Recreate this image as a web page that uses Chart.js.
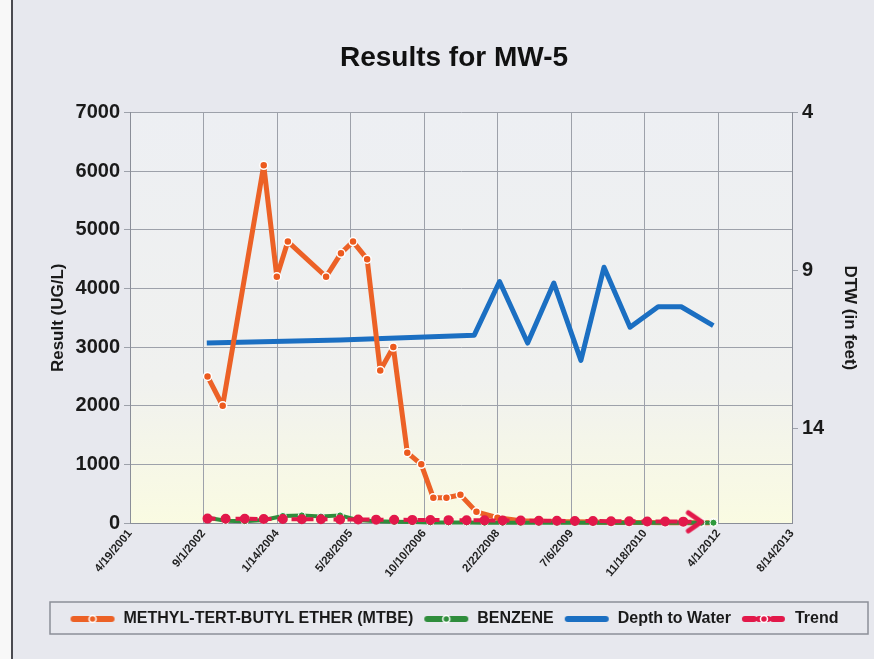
<!DOCTYPE html>
<html lang="en">
<head>
  <meta charset="UTF-8" />
  <title>Results for MW-5</title>
  <script src="https://cdn.jsdelivr.net/npm/chart.js@4.4.0/dist/chart.umd.min.js"></script>
  <style>
    html, body { margin: 0; padding: 0; background: #ffffff; }
    .chart-box { position: relative; width: 874px; height: 659px; }
  </style>
</head>
<body>
  <div class="chart-box"><canvas id="mwChart"></canvas></div>

  <script>
    // x axis tick labels (every 500 days)
    const xTickLabels = ['4/19/2001', '9/1/2002', '1/14/2004', '5/28/2005', '10/10/2006',
      '2/22/2008', '7/6/2009', '11/18/2010', '4/1/2012', '8/14/2013'];
    const resultTicks = [0, 1000, 2000, 3000, 4000, 5000, 6000, 7000];
    const dtwTicks = [4, 9, 14];

    // MTBE (ug/L)
    const mtbeDates = ['9/28/2002', '1/9/2003', '10/15/2003', '1/12/2004', '3/27/2004', '12/12/2004',
      '3/23/2005', '6/13/2005', '9/17/2005', '12/15/2005', '3/14/2006', '6/17/2006', '9/20/2006',
      '12/11/2006', '3/10/2007', '6/13/2007', '9/30/2007', '2/20/2008', '7/27/2008', '11/27/2008',
      '3/30/2009', '7/30/2009', '11/30/2009', '4/2/2010', '8/3/2010', '12/4/2010', '4/5/2011',
      '8/6/2011', '12/7/2011', '2/27/2012'];
    const mtbeValues = [2500, 2000, 6100, 4200, 4800, 4200, 4600, 4800, 4500, 2600, 3000, 1200, 1000,
      430, 430, 480, 190, 90, 40, 30, 20, 20, 15, 10, 10, 10, 5, 5, 5, 5];

    // Benzene (ug/L)
    const benzeneDates = ['9/28/2002', '1/29/2003', '6/8/2003', '10/15/2003', '2/22/2004', '6/30/2004',
      '11/7/2004', '3/17/2005', '7/18/2005', '11/17/2005', '3/20/2006', '7/21/2006', '11/21/2006',
      '3/24/2007', '7/25/2007', '11/24/2007', '3/26/2008', '7/27/2008', '11/27/2008', '3/30/2009',
      '7/30/2009', '11/30/2009', '4/2/2010', '8/3/2010', '12/4/2010', '4/5/2011', '8/6/2011',
      '12/7/2011', '2/27/2012'];
    const benzeneValues = [90, 40, 30, 50, 120, 130, 110, 130, 50, 30, 20, 15, 10, 10, 10, 5, 5, 5, 5,
      5, 5, 5, 5, 5, 5, 5, 5, 5, 5];

    // Trend
    const trendDates = ['9/28/2002', '1/29/2003', '6/8/2003', '10/15/2003', '2/22/2004', '6/30/2004',
      '11/7/2004', '3/17/2005', '7/18/2005', '11/17/2005', '3/20/2006', '7/21/2006', '11/21/2006',
      '3/24/2007', '7/25/2007', '11/24/2007', '3/26/2008', '7/27/2008', '11/27/2008', '3/30/2009',
      '7/30/2009', '11/30/2009', '4/2/2010', '8/3/2010', '12/4/2010', '4/5/2011', '8/6/2011',
      '12/7/2011'];
    const trendValues = [75, 73, 71, 69, 67, 65, 63, 61, 59, 57, 55, 53, 51, 49, 47, 45, 43, 41, 39,
      37, 35, 33, 31, 29, 27, 25, 23, 21];

    // Depth to water (feet)
    const dtwDates = ['9/23/2002', '3/17/2005', '9/15/2007', '3/5/2008', '9/12/2008', '3/9/2009',
      '9/9/2009', '2/13/2010', '8/9/2010', '2/16/2011', '7/23/2011', '2/26/2012'];
    const dtwValues = [11.3, 11.2, 11.05, 9.35, 11.3, 9.4, 11.85, 8.9, 10.8, 10.15, 10.15, 10.75];

    function toUTC(s) {
      const [m, d, y] = s.split('/').map(Number);
      return Date.UTC(y, m - 1, d);
    }
    const base = toUTC(xTickLabels[0]);
    function dayOf(s) {
      return Math.round((toUTC(s) - base) / 86400000);
    }
    function points(dates, values) {
      return dates.map((s, i) => ({ x: dayOf(s), y: values[i] }));
    }

    function legendIcon(color, dot, dash) {
      const c = document.createElement('canvas');
      c.width = 46; c.height = 14;
      const g = c.getContext('2d');
      g.strokeStyle = color; g.lineWidth = 6; g.lineCap = 'round';
      if (dash) g.setLineDash(dash);
      g.beginPath(); g.moveTo(4, 7); g.lineTo(42, 7); g.stroke();
      if (dot) {
        g.setLineDash([]);
        g.fillStyle = color; g.strokeStyle = '#ffffff'; g.lineWidth = 1.5;
        g.beginPath(); g.arc(23, 7, 3.5, 0, Math.PI * 2); g.fill(); g.stroke();
      }
      return c;
    }

    function arrowHead(color) {
      const c = document.createElement('canvas');
      c.width = 44; c.height = 26;
      const g = c.getContext('2d');
      g.strokeStyle = color; g.lineWidth = 5; g.lineCap = 'round'; g.lineJoin = 'round';
      g.beginPath(); g.moveTo(9, 4); g.lineTo(22, 13); g.lineTo(9, 22); g.stroke();
      return c;
    }

    const icons = [
      legendIcon('#ec6126', true),
      legendIcon('#2f8d3c', true),
      legendIcon('#1b6fc2', false),
      legendIcon('#e2184a', true, [9, 5])
    ];
    const arrow = arrowHead('#e2184a');

    // page + plot background, legend frame
    const backdrop = {
      id: 'backdrop',
      beforeDraw(chart) {
        const { ctx, chartArea: a, width, height } = chart;
        ctx.save();
        ctx.fillStyle = '#e7e8ee';
        ctx.fillRect(0, 0, width, height);
        ctx.fillStyle = '#f8f8f8';
        ctx.fillRect(0, 0, 12, height);
        const grad = ctx.createLinearGradient(0, a.top, 0, a.bottom);
        grad.addColorStop(0, '#edeff3');
        grad.addColorStop(0.65, '#f0f1ef');
        grad.addColorStop(1, '#fafbe2');
        ctx.fillStyle = grad;
        ctx.fillRect(a.left, a.top, a.right - a.left, a.bottom - a.top);
        ctx.strokeStyle = '#4a4a50'; ctx.lineWidth = 2;
        ctx.beginPath(); ctx.moveTo(12, 0); ctx.lineTo(12, height); ctx.stroke();
        ctx.restore();
      },
      afterDraw(chart) {
        const lg = chart.legend;
        const ctx = chart.ctx;
        ctx.save();
        ctx.strokeStyle = '#8c8f98'; ctx.lineWidth = 1.5;
        ctx.strokeRect(50, lg.top + 1, 818, lg.height - 4);
        ctx.restore();
      }
    };

    Chart.defaults.font.family = '"Liberation Sans", Arial, sans-serif';
    Chart.defaults.font.weight = 'bold';
    Chart.defaults.color = '#1a1a1a';

    const ctx = document.getElementById('mwChart').getContext('2d');
    new Chart(ctx, {
      type: 'line',
      data: {
        datasets: [{
          label: 'METHYL-TERT-BUTYL ETHER (MTBE)',
          data: points(mtbeDates, mtbeValues),
          yAxisID: 'y',
          borderColor: '#ec6126',
          borderWidth: 5,
          borderJoinStyle: 'round',
          pointRadius: 4,
          pointBackgroundColor: '#ec5a1e',
          pointBorderColor: '#ffffff',
          pointBorderWidth: 1.5,
          clip: false,
          order: 2
        }, {
          label: 'BENZENE',
          data: points(benzeneDates, benzeneValues),
          yAxisID: 'y',
          borderColor: '#2f8d3c',
          borderWidth: 4,
          borderJoinStyle: 'round',
          pointRadius: 3.5,
          pointBackgroundColor: '#2f9a3c',
          pointBorderColor: '#ffffff',
          pointBorderWidth: 1,
          clip: false,
          order: 1
        }, {
          label: 'Depth to Water',
          data: points(dtwDates, dtwValues),
          yAxisID: 'y2',
          borderColor: '#1b6fc2',
          borderWidth: 5,
          borderJoinStyle: 'round',
          pointRadius: 0,
          order: 3
        }, {
          label: 'Trend',
          data: points(trendDates, trendValues),
          yAxisID: 'y',
          borderColor: '#e2184a',
          borderWidth: 4,
          borderDash: [8, 6],
          pointRadius: 3,
          pointBackgroundColor: '#e2184a',
          pointBorderColor: '#e2184a',
          pointStyle: c => c.dataIndex === trendDates.length - 1 ? arrow : 'circle',
          clip: false,
          order: 0
        }]
      },
      options: {
        responsive: true,
        maintainAspectRatio: false,
        animation: false,
        layout: { padding: { left: 48, right: 14, top: 0, bottom: 22 } },
        plugins: {
          title: {
            display: true,
            text: 'Results for MW-5',
            color: '#111111',
            font: { size: 28, weight: 'bold' },
            padding: { top: 41, bottom: 38 }
          },
          legend: {
            position: 'bottom',
            labels: {
              usePointStyle: true,
              pointStyleWidth: 46,
              padding: 10,
              color: '#1a1a1a',
              font: { size: 16, weight: 'bold' },
              sort: (a, b) => a.datasetIndex - b.datasetIndex,
              generateLabels(chart) {
                const items = Chart.defaults.plugins.legend.labels.generateLabels(chart);
                items.forEach(it => { it.pointStyle = icons[it.datasetIndex]; });
                return items;
              }
            }
          },
          tooltip: { enabled: false }
        },
        scales: {
          x: {
            type: 'linear',
            min: dayOf(xTickLabels[0]),
            max: dayOf(xTickLabels[xTickLabels.length - 1]),
            afterBuildTicks: s => { s.ticks = xTickLabels.map(t => ({ value: dayOf(t) })); },
            afterFit: s => { s.height = 78; },
            ticks: {
              callback: (v, i) => xTickLabels[i],
              autoSkip: false,
              minRotation: 50,
              maxRotation: 50,
              padding: 4,
              color: '#222222',
              font: { size: 11.5, weight: 'bold' }
            },
            grid: { color: '#9da1aa', tickLength: 0 },
            border: { color: '#8a8e98' }
          },
          y: {
            position: 'left',
            min: 0,
            max: 7000,
            afterBuildTicks: s => { s.ticks = resultTicks.map(v => ({ value: v })); },
            afterFit: s => { s.width = 82; },
            ticks: { padding: 4, callback: v => String(v), font: { size: 20, weight: 'bold' } },
            grid: { color: '#9da1aa', tickLength: 6 },
            border: { color: '#8a8e98' },
            title: { display: true, text: 'Result (UG/L)', font: { size: 17, weight: 'bold' }, padding: { top: 0, bottom: 2 } }
          },
          y2: {
            position: 'right',
            reverse: true,
            min: 4,
            max: 17,
            afterBuildTicks: s => { s.ticks = dtwTicks.map(v => ({ value: v })); },
            afterFit: s => { s.width = 68; },
            ticks: { padding: 4, callback: v => String(v), font: { size: 20, weight: 'bold' } },
            grid: { drawOnChartArea: false, color: '#9da1aa', tickLength: 6 },
            border: { color: '#8a8e98' },
            title: { display: true, text: 'DTW (in feet)', font: { size: 17, weight: 'bold' }, padding: 0 }
          }
        }
      },
      plugins: [backdrop]
    });
  </script>
</body>
</html>
